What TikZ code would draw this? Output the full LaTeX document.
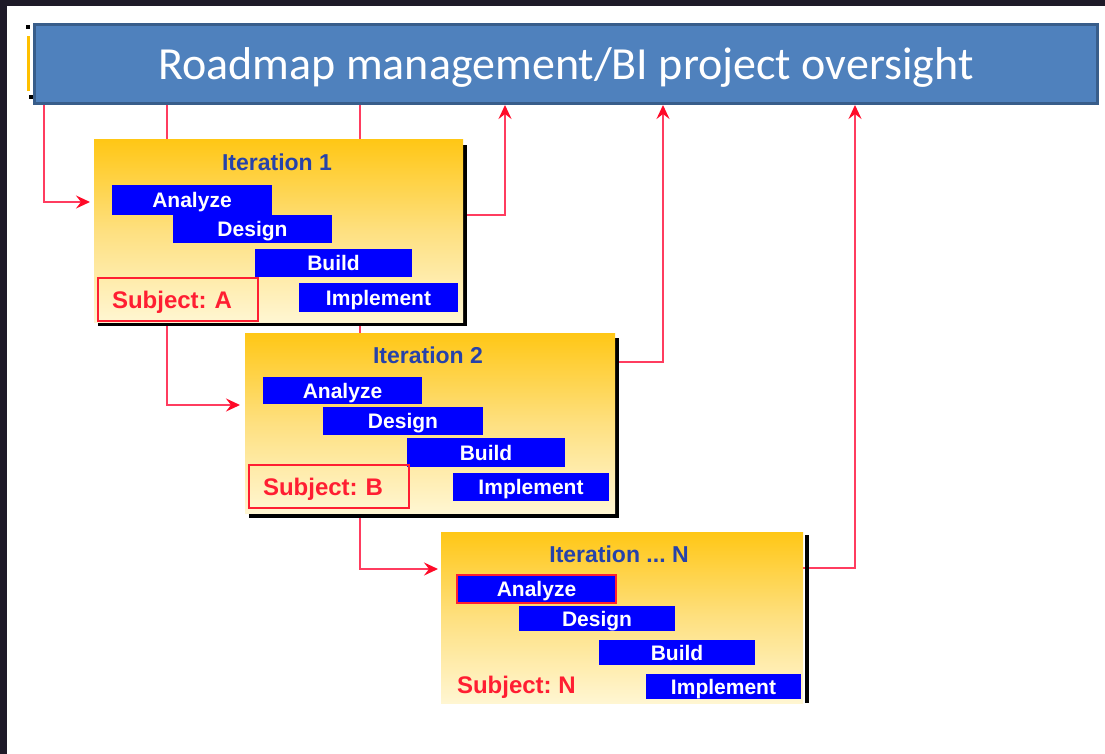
\documentclass[tikz,border=0pt]{standalone}
\usepackage{fontspec}
\setmainfont{Liberation Sans}
\newfontfamily\headfont{Carlito}
\usetikzlibrary{arrows.meta,backgrounds,calc}
\frenchspacing

\definecolor{framedark}{RGB}{30,26,40}
\definecolor{headfill}{RGB}{79,129,189}
\definecolor{headline}{RGB}{56,93,138}
\definecolor{gold}{RGB}{255,199,22}
\definecolor{goldmid}{RGB}{254,224,128}
\definecolor{cream}{RGB}{255,246,210}
\definecolor{taskblue}{RGB}{0,0,255}
\definecolor{titleblue}{RGB}{38,66,170}
\definecolor{linkred}{RGB}{255,60,95}
\definecolor{tipred}{RGB}{255,10,40}
\definecolor{subjred}{RGB}{255,30,50}
\definecolor{handle}{RGB}{255,192,0}

\pgfdeclarelayer{canvas}
\pgfsetlayers{canvas,background,main}

\tikzset{
  every node/.style={inner sep=0pt, outer sep=0pt},
  headbar/.style={draw=headline, line width=3pt, fill=headfill, outer sep=1.5pt,
    minimum width=1063pt, minimum height=79pt, text=white,
    font=\headfont\fontsize{46}{52}\selectfont, text height=37pt, text depth=5pt},
  iterbox/.style={top color=gold, bottom color=cream, middle color=goldmid},
  itertitle/.style={anchor=base, text=titleblue, font=\bfseries\fontsize{23}{26}\selectfont},
  taskbar/.style 2 args={fill=taskblue, text=white, minimum width=#1pt, minimum height=#2pt,
    font=\bfseries\fontsize{21}{24}\selectfont, text height=15pt, text depth=0pt},
  subjbox/.style={draw=subjred, line width=2pt, inner xsep=14pt, text width=132pt, align=left,
    minimum height=43pt, text=subjred, font=\bfseries\fontsize{24}{27}\selectfont,
    text height=17pt, text depth=0pt},
  subjtext/.style={text=subjred, font=\bfseries\fontsize{24}{27}\selectfont},
  link/.style={draw=linkred, line width=2pt,
    -{Stealth[length=14pt,width=13pt,inset=5pt,color=tipred]}},
}

\begin{document}
\begin{tikzpicture}[x=1pt, y=-1pt]
\useasboundingbox (0,0) rectangle (1105,754);
\begin{pgfonlayer}{canvas}
  \fill[white] (0,0) rectangle (1105,754);
  % dark window frame along the top and left edges
  \fill[framedark] (0,0) rectangle (1105,6);
  \fill[framedark] (0,0) rectangle (7,754);
\end{pgfonlayer}

% selection handles beside the header
\fill[black] (26,25) rectangle (30,29);
\fill[handle] (27,36) rectangle (30,91);
\fill[black] (29,95) rectangle (33,99);

% header
\node[headbar] (top) at (566,64) {Roadmap management/BI project oversight};

% shadows behind the iteration panels
\fill[black] (98,145) rectangle (467,326);
\fill[black] (249,338) rectangle (619,518);
\fill[black] (805,535) rectangle (809,703);

% iteration 1
\node[iterbox, minimum width=369pt, minimum height=182pt] (it1) at (278.5,231) {};
\node[itertitle] (t1) at (277,171) {Iteration 1};
\node[taskbar={160}{30}] (a1) at (192,200) {Analyze};
\node[taskbar={159}{28}] (d1) at (252.5,229) {Design};
\node[taskbar={157}{28}] (b1) at (333.5,263) {Build};
\node[taskbar={159}{29}] (m1) at (378.5,297.5) {Implement};
\node[subjbox] (s1) at (178,299.5) {Subject: A};

% iteration 2
\node[iterbox, minimum width=370pt, minimum height=180pt] (it2) at (430,423) {};
\node[itertitle] (t2) at (428,363) {Iteration 2};
\node[taskbar={159}{27}] (a2) at (342.5,390.5) {Analyze};
\node[taskbar={160}{28}] (d2) at (403,421) {Design};
\node[taskbar={158}{29}] (b2) at (486,452.5) {Build};
\node[taskbar={156}{28}] (m2) at (531,487) {Implement};
\node[subjbox] (s2) at (329,486.5) {Subject: B};

% iteration N
\node[iterbox, minimum width=362pt, minimum height=171pt] (it3) at (622,617.5) {};
\node[itertitle] (t3) at (619,562) {Iteration ... N};
\node[taskbar={159}{28}, draw=subjred, line width=1.5pt] (a3) at (536.5,589) {Analyze};
\node[taskbar={156}{25}] (d3) at (597,618.5) {Design};
\node[taskbar={156}{25}] (b3) at (677,652.5) {Build};
\node[taskbar={155}{25}] (m3) at (723.5,686.5) {Implement};
\node[subjtext, anchor=base west] (s3) at (457,693) {Subject: N};

% connectors, kept behind the panels
\begin{pgfonlayer}{background}
  \coordinate (k1) at (44,202);
  \coordinate (k2) at (167,405);
  \coordinate (k3) at (360,569);
  \coordinate (u1) at (505,215);
  \coordinate (u2) at (663,362);
  \coordinate (u3) at (855,568);
  \draw[link, shorten >=4pt] (k1 |- top.south) -- (k1) -- (it1.west |- k1);
  \draw[link, shorten >=5pt] (k2 |- top.south) -- (k2) -- (it2.west |- k2);
  \draw[link, shorten >=3pt] (k3 |- top.south) -- (k3) -- (it3.west |- k3);
  \draw[link] (it1.east |- u1) -- (u1) -- (u1 |- top.south);
  \draw[link] (it2.east |- u2) -- (u2) -- (u2 |- top.south);
  \draw[link] (it3.east |- u3) -- (u3) -- (u3 |- top.south);
\end{pgfonlayer}
\end{tikzpicture}
\end{document}
